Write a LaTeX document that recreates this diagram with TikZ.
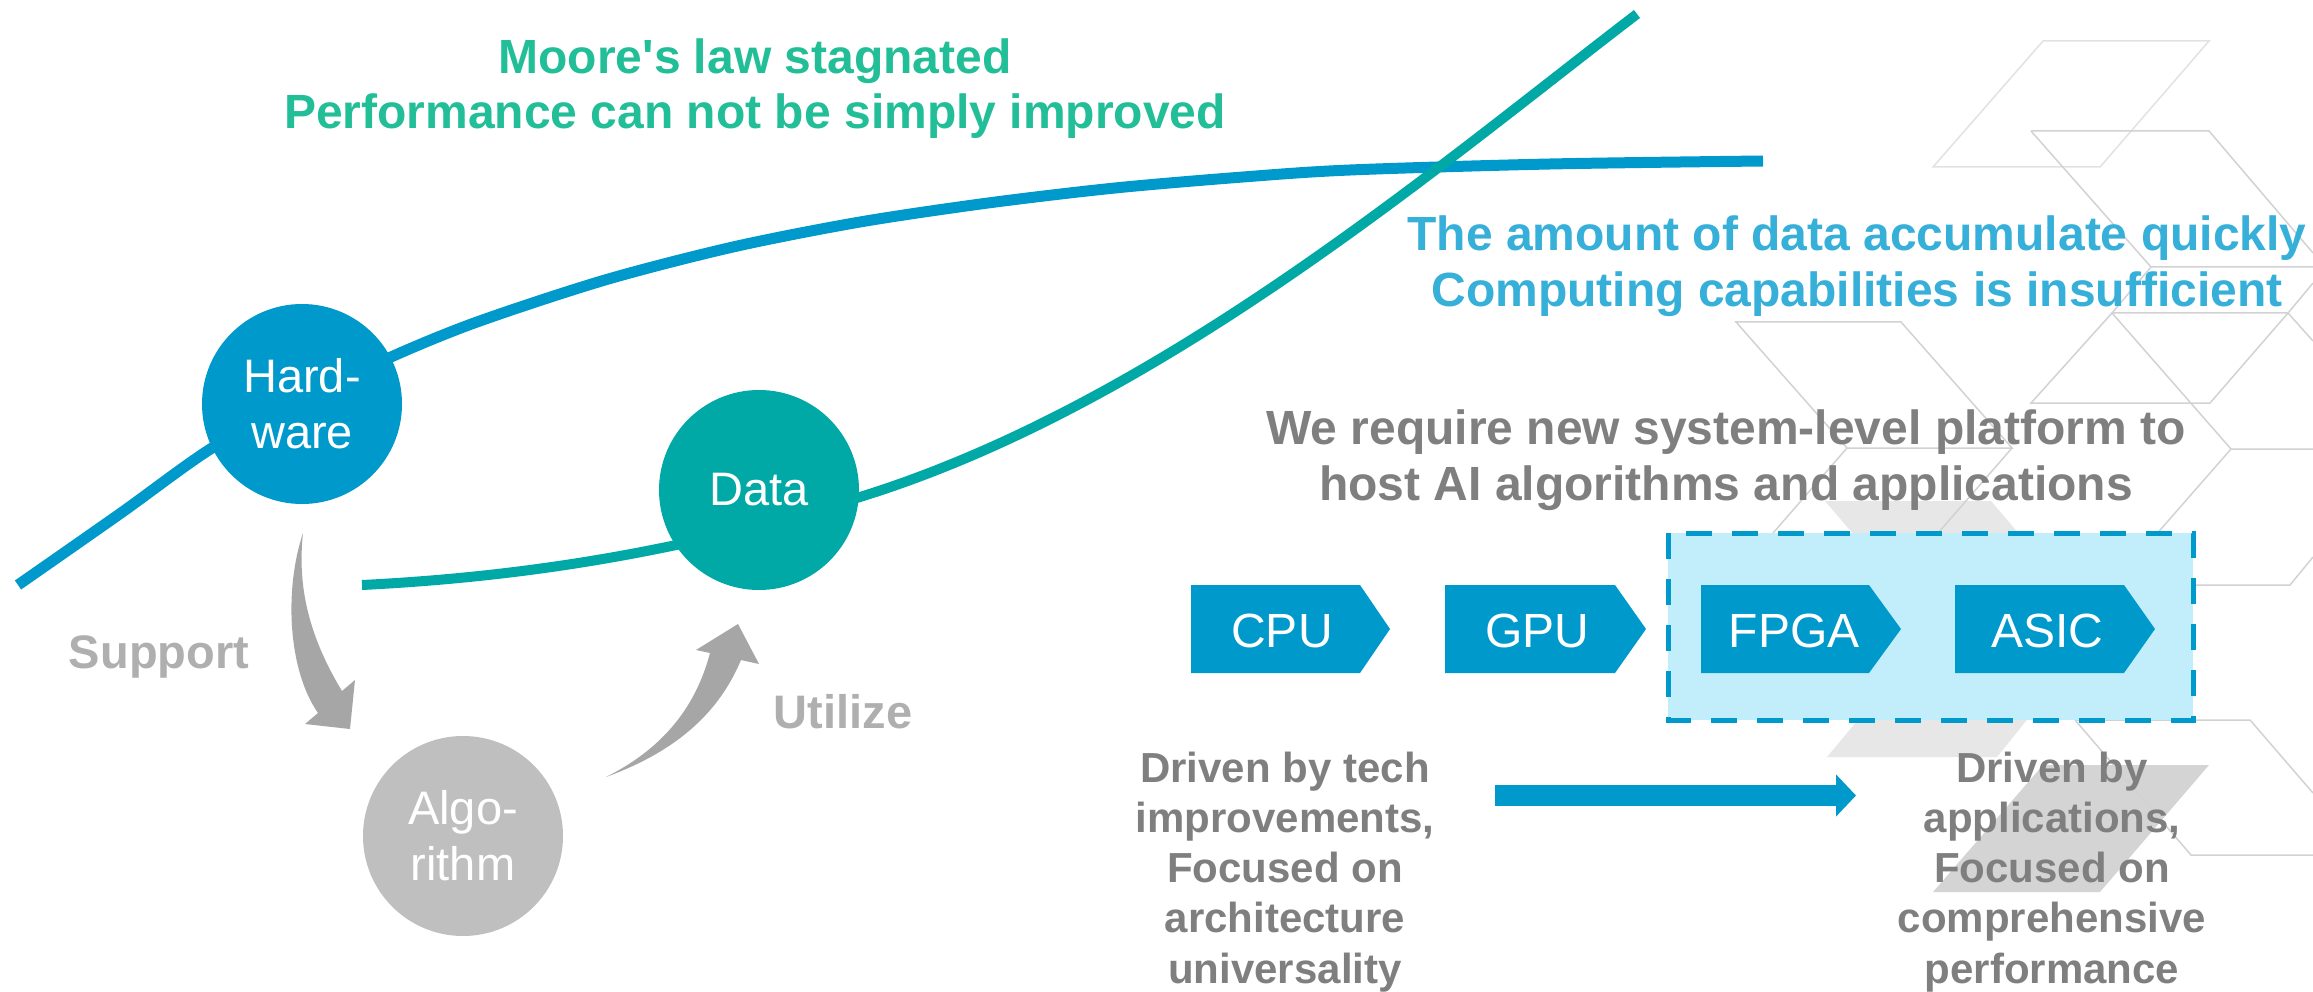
\documentclass[tikz,border=0pt]{standalone}
\usepackage{fontspec}
\setmainfont{Liberation Sans}
\usetikzlibrary{arrows.meta}
\definecolor{cBlue}{HTML}{0099CC}
\definecolor{cTeal}{HTML}{00A9A5}
\definecolor{cGreen}{HTML}{22BE97}
\definecolor{cSky}{HTML}{36AFD9}
\definecolor{cGrayT}{HTML}{7F7F7F}
\definecolor{cGrayL}{HTML}{AFAFAF}
\definecolor{cArrow}{HTML}{A6A6A6}
\definecolor{cAlgo}{HTML}{BFBFBF}
\definecolor{cBox}{HTML}{C2EEFC}
\definecolor{cHex}{HTML}{D2D2D2}
\definecolor{cHexL}{HTML}{E2E2E2}
\definecolor{cFillA}{HTML}{E7E7E7}
\definecolor{cFillB}{HTML}{D4D4D4}
\tikzset{
  hexline/.style={draw=cHex, line width=1.5, line join=miter},
  hexlight/.style={draw=cHexL, line width=1.5},
  bigtxt/.style={font=\fontsize{48}{56}\selectfont\bfseries, inner sep=0, anchor=base},
  midtxt/.style={font=\fontsize{42}{50}\selectfont\bfseries, text=cGrayT, inner sep=0, anchor=base},
  lbltxt/.style={font=\fontsize{47}{56}\selectfont\bfseries, text=cGrayL, inner sep=0, anchor=base},
  ball/.style={circle, minimum size=200, inner sep=0, text=white, align=center,
    font=\fontsize{47}{56}\selectfont},
  chevtxt/.style={font=\fontsize{48}{56}\selectfont, text=white, inner sep=0},
  chevfill/.style={fill=cBlue},
}
\begin{document}
\begin{tikzpicture}[x=1pt,y=-1pt]
\useasboundingbox (0,0) rectangle (2313,992);
\fill[white] (0,0) rectangle (2313,992);

% background pattern
\fill[cFillA] (1825,501) -- (1991,501) -- (2100,629) -- (1997,757) -- (1827,757) -- (1934,629) -- cycle;
\fill[cFillB] (2043,765) -- (2209,765) -- (2100,892) -- (1933,892) -- cycle;
\draw[hexlight] (2043,41) -- (2209,41) -- (2100,167) -- (1933,167) -- cycle;
\draw[hexline] (2031,131) -- (2209,131) -- (2313,253);
\draw[hexline] (2031,131) -- (2151,267) -- (2313,267);
\draw[hexline] (2151,267) -- (2112,313) -- (2288,313) -- (2313,283);
\draw[hexline] (2288,313) -- (2313,341);
\draw[hexline] (2112,313) -- (2031,403) -- (2210,403) -- (2288,313);
\draw[hexline] (2112,313) -- (2231,449) -- (2313,449);
\draw[hexline] (2231,449) -- (2140,553);
\draw[hexline] (1736,322) -- (1901,322) -- (2012,448) -- (1847,448) -- cycle;
\draw[hexline] (1847,448) -- (1760,548);
\draw[hexline] (2012,448) -- (1925,548);
\draw[hexline] (2180,585) -- (2290,585) -- (2313,557);
\draw[hexline] (2075,720) -- (2250,720) -- (2313,793);
\draw[hexline] (2075,720) -- (2191,855) -- (2313,855);

% curves
\draw[cBlue, line width=11] plot[smooth, tension=0.5] coordinates {(18,585) (121,513) (212,448) (302,400) (391,357) (477,322) (605,280) (733,247) (860,222) (988,203) (1115,188) (1243,177) (1350,170) (1550,164) (1763,161)};
\draw[cTeal, line width=10] (362,585) .. controls (532,576.5) and (690,549.7) .. (860,497)
  .. controls (1160,404) and (1437,167) .. (1637,14);

% circles
\node[ball, fill=cBlue] (hw) at (302,404) {Hard-\\ware};
\node[ball, fill=cTeal] (data) at (759,490) {Data};
\node[ball, fill=cAlgo] (algo) at (463,836) {Algo-\\rithm};

% curved gray arrows
\fill[cArrow] (303,533) .. controls (284,590) and (288,670) .. (318,713)
  -- (305,724) -- (350,729) -- (355,680) -- (342,691)
  .. controls (305,630) and (298,580) .. (303,533) -- cycle;
\fill[cArrow] (606,777) .. controls (680,750) and (720,710) .. (741,660)
  -- (759,664) -- (738,624) -- (696,650) -- (710,653)
  .. controls (695,710) and (660,750) .. (606,777) -- cycle;
\node[lbltxt] (sup) at (159,668) {Support};
\node[lbltxt] (uti) at (843,728) {Utilize};

% titles
\node[bigtxt, text=cGreen] (t1) at (755,74) {Moore\textquotesingle s law stagnated};
\node[bigtxt, text=cGreen] (t2) at (755,129) {Performance can not be simply improved};
\node[bigtxt, text=cSky] (b1) at (1857,251) {The amount of data accumulate quickly};
\node[bigtxt, text=cSky] (b2) at (1857,307) {Computing capabilities is insufficient};
\node[bigtxt, text=cGrayT] (g1) at (1726,444) {We require new system-level platform to};
\node[bigtxt, text=cGrayT] (g2) at (1726,500) {host AI algorithms and applications};

% dashed box
\draw[cBlue, fill=cBox, line width=5, dash pattern=on 26 off 20] (1668,533) rectangle (2193,720);

% chevrons
\fill[chevfill] (1191,585) -- (1360,585) -- (1390,629) -- (1360,673) -- (1191,673) -- cycle;
\fill[chevfill] (1445,585) -- (1615,585) -- (1646,629) -- (1615,673) -- (1445,673) -- cycle;
\fill[chevfill] (1701,585) -- (1869,585) -- (1901,629) -- (1869,673) -- (1701,673) -- cycle;
\fill[chevfill] (1955,585) -- (2124,585) -- (2155,629) -- (2124,673) -- (1955,673) -- cycle;
\node[chevtxt] (cpu) at (1282,631) {CPU};
\node[chevtxt] (gpu) at (1537,631) {GPU};
\node[chevtxt] (fpga) at (1794,631) {FPGA};
\node[chevtxt] (asic) at (2047,631) {ASIC};

% bottom texts
\node[midtxt] (l1) at (1285,782) {Driven by tech};
\node[midtxt] (l2) at (1285,832.3) {improvements,};
\node[midtxt] (l3) at (1285,882.6) {Focused on};
\node[midtxt] (l4) at (1285,932.9) {architecture};
\node[midtxt] (l5) at (1285,983.2) {universality};
\node[midtxt] (r1) at (2052,782) {Driven by};
\node[midtxt] (r2) at (2052,832.3) {applications,};
\node[midtxt] (r3) at (2052,882.6) {Focused on};
\node[midtxt] (r4) at (2052,932.9) {comprehensive};
\node[midtxt] (r5) at (2052,983.2) {performance};

\coordinate (arrS) at (1495,795.5);
\coordinate (arrE) at (1856,795.5);
\draw[cBlue, line width=21, -{Triangle[length=20pt,width=41pt]}] (arrS) -- (arrE);
\end{tikzpicture}
\end{document}
